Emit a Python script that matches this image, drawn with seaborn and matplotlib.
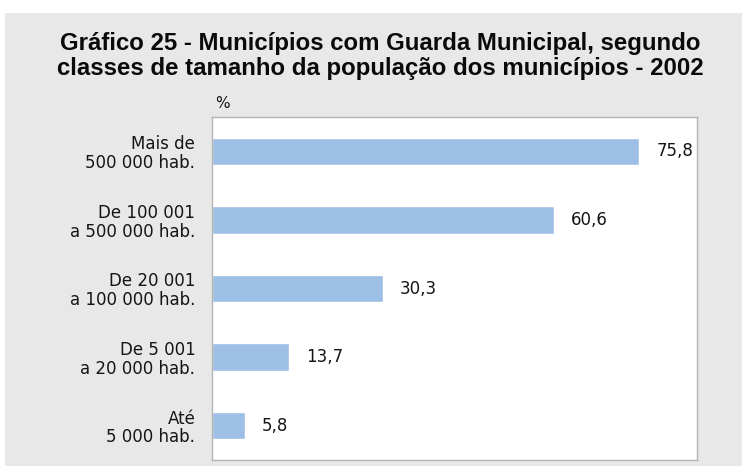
import numpy as np
import pandas as pd
import matplotlib
matplotlib.use('Agg')
import matplotlib.pyplot as plt
from matplotlib.patches import Rectangle
import seaborn as sns

# data
categories = ['Mais de\n500 000 hab.', 'De 100 001\na 500 000 hab.', 'De 20 001\na 100 000 hab.',
              'De 5 001\na 20 000 hab.', 'Até\n5 000 hab.']
values = [75.8, 60.6, 30.3, 13.7, 5.8]
valueLabels = ['75,8', '60,6', '30,3', '13,7', '5,8']

titleText = 'Gráfico 25 - Municípios com Guarda Municipal, segundo\nclasses de tamanho da população dos municípios - 2002'

sns.set_style('white')
plt.rcParams['font.family'] = ['DejaVu Sans']

barColor = '#9dbfe5'
bgColor = '#e8e8e8'
txtColor = '#151515'

fig = plt.figure(figsize=(7.42, 4.66), dpi=100)
fig.patch.set_facecolor(bgColor)
# white strip on top and a thin one on the left
fig.patches.append(Rectangle((0, 1 - 13 / 466), 1, 13 / 466, transform=fig.transFigure,
                             facecolor='white', edgecolor='none', zorder=-1))
fig.patches.append(Rectangle((0, 0), 5 / 742, 1, transform=fig.transFigure,
                             facecolor='white', edgecolor='none', zorder=-1))

ax = fig.add_axes([212 / 742, 6 / 466, 485 / 742, 343 / 466])
df = pd.DataFrame({'cat': categories, 'val': values})
sns.barplot(data=df, x='val', y='cat', orient='h', color=barColor, width=0.4,
            saturation=1, ax=ax)

ax.set_xlim(0, 86)
ax.set_ylim(4.5, -0.5)
ax.set_xlabel('')
ax.set_ylabel('')
ax.set_xticks([])
ax.tick_params(axis='y', which='major', length=0, pad=12, labelsize=12, labelcolor=txtColor)
ax.set_yticks([0.5, 1.5, 2.5, 3.5], minor=True)
ax.tick_params(axis='y', which='minor', length=4, color='#c8c8e0', width=1)
for lbl in ax.get_yticklabels():
    lbl.set_horizontalalignment('right')
    lbl.set_linespacing(1.05)

for s in ax.spines.values():
    s.set_color('#b4b4b4')
    s.set_linewidth(1)

ax.bar_label(ax.containers[0], labels=valueLabels, padding=12, fontsize=12, color=txtColor)

fig.text(0.513, 1 - 56 / 466, titleText, ha='center', va='center', fontsize=17.3,
         fontweight='bold', family=['Liberation Sans', 'DejaVu Sans'], linespacing=1.12,
         color='#0a0a0a')
fig.text(222 / 742, 1 - 103 / 466, '%', ha='center', va='center', fontsize=11, color=txtColor)

fig.savefig('out.png', dpi=100, facecolor=fig.get_facecolor())
